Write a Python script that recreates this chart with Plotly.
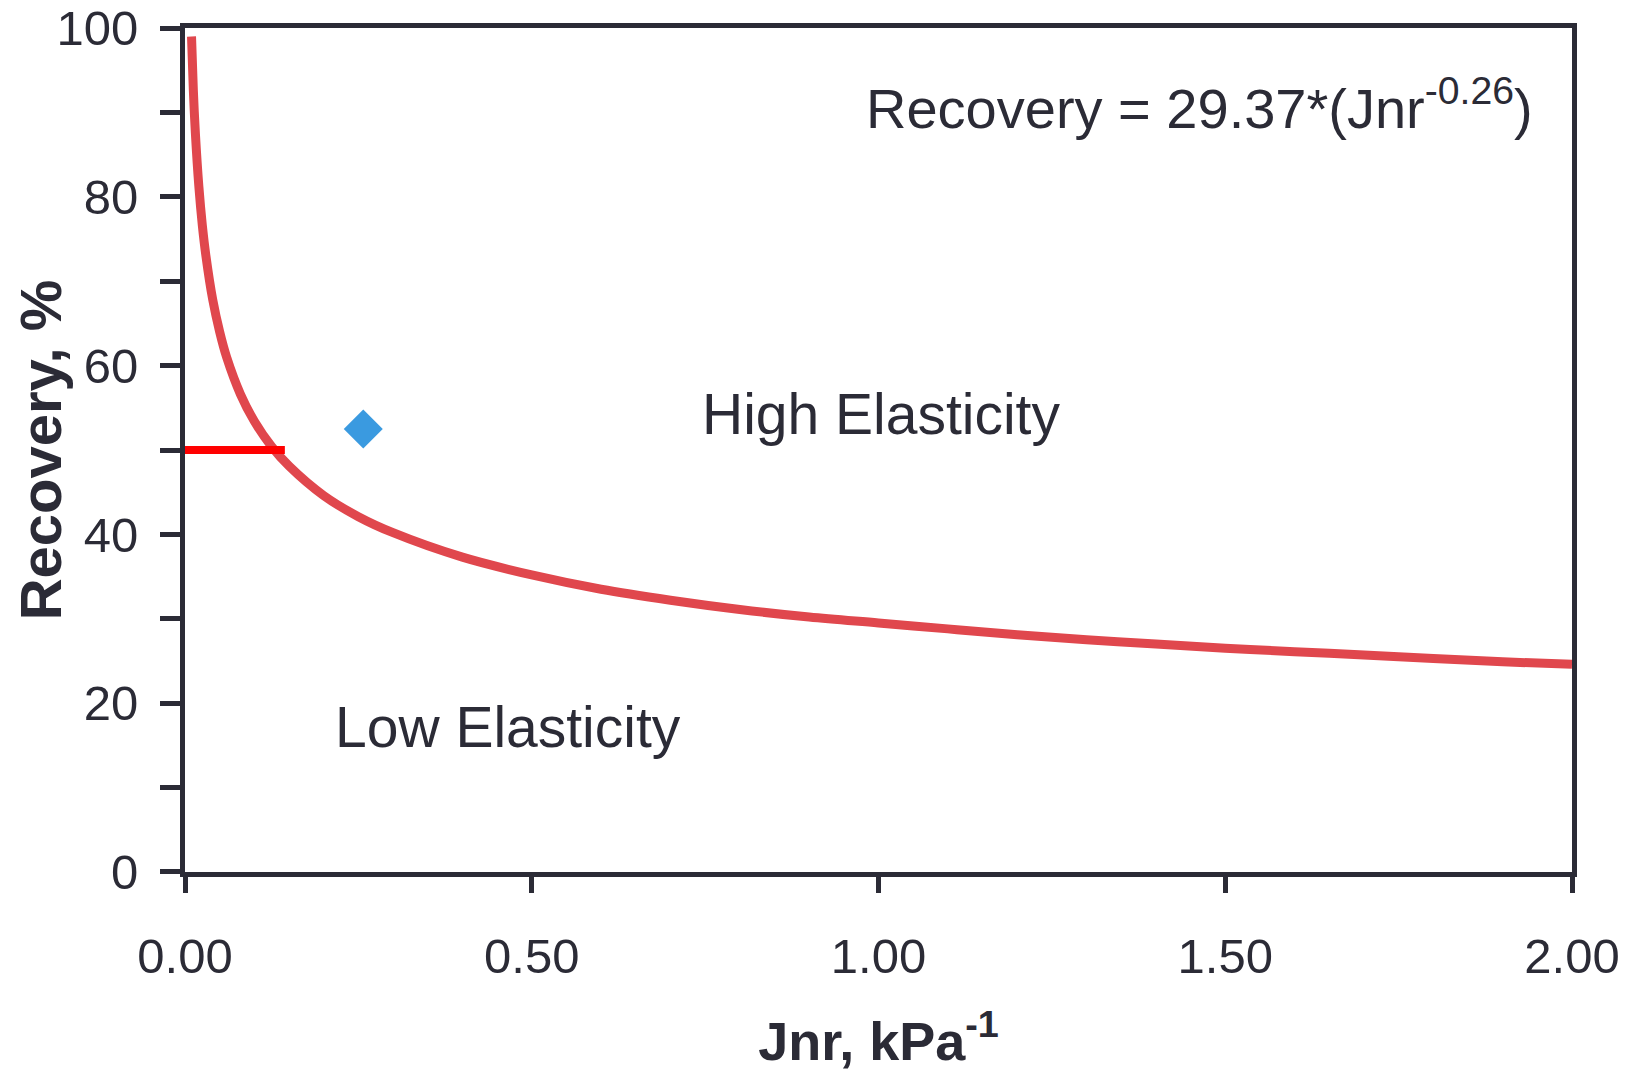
import plotly.graph_objects as go

# Data
jnr = [0.0094, 0.012, 0.015, 0.02, 0.025, 0.03, 0.04, 0.05, 0.06, 0.08, 0.10,
       0.125, 0.15, 0.20, 0.25, 0.30, 0.40, 0.50, 0.60, 0.70, 0.80, 0.90, 1.00,
       1.10, 1.20, 1.30, 1.40, 1.50, 1.60, 1.70, 1.80, 1.90, 2.00]
recovery = [99.0, 92.7, 87.5, 81.2, 76.6, 73.1, 67.8, 64.0, 61.0, 56.6, 53.4,
            50.4, 48.1, 44.6, 42.1, 40.2, 37.3, 35.2, 33.5, 32.2, 31.1, 30.2, 29.5,
            28.8, 28.1, 27.5, 27.0, 26.5, 26.1, 25.7, 25.3, 24.9, 24.6]

limit_x = [0.0, 0.144]
limit_y = [50, 50]

point_x = [0.257]
point_y = [52.5]

y_tick_vals = [0, 20, 40, 60, 80, 100]
y_tick_text = ["0", "20", "40", "60", "80", "100"]
x_tick_vals = [0.0, 0.5, 1.0, 1.5, 2.0]
x_tick_text = ["0.00", "0.50", "1.00", "1.50", "2.00"]

FONT = "Liberation Sans, Arial, sans-serif"
INK = "#2b2b36"

fig = go.Figure()
fig.add_trace(go.Scatter(x=jnr, y=recovery, mode="lines",
                         line=dict(color="#e0474d", width=9, shape="spline"),
                         showlegend=False))
fig.add_trace(go.Scatter(x=limit_x, y=limit_y, mode="lines",
                         line=dict(color="#ff0000", width=8),
                         showlegend=False))
fig.add_trace(go.Scatter(x=point_x, y=point_y, mode="markers",
                         marker=dict(symbol="diamond", size=30, color="#3a9ae0"),
                         showlegend=False))

fig.add_annotation(x=1.947, y=91.0, xanchor="right", yanchor="middle", showarrow=False,
                   text="Recovery = 29.37*(Jnr<sup>-0.26</sup>)",
                   font=dict(family=FONT, size=56, color=INK))
fig.add_annotation(x=0.742, y=54.3, xanchor="left", yanchor="middle", showarrow=False,
                   text="High Elasticity", font=dict(family=FONT, size=57, color=INK))
fig.add_annotation(x=0.214, y=17.2, xanchor="left", yanchor="middle", showarrow=False,
                   text="Low Elasticity", font=dict(family=FONT, size=57, color=INK))

fig.update_layout(
    width=1636, height=1063,
    margin=dict(l=177, r=72, t=20, b=199),
    paper_bgcolor="white", plot_bgcolor="white",
    font=dict(family=FONT, color=INK),
    xaxis=dict(range=[0, 2], tickvals=x_tick_vals, ticktext=x_tick_text,
               automargin=False, ticklabeloverflow="allow",
               showgrid=False, zeroline=False, showline=True, mirror=True,
               linecolor=INK, linewidth=5, ticks="outside", ticklen=16,
               tickwidth=5, tickcolor=INK, ticklabelstandoff=21,
               tickfont=dict(family=FONT, size=49, color=INK),
               title=dict(text="<b>Jnr, kPa<sup>-1</sup></b>", standoff=48,
                          font=dict(family=FONT, size=54, color=INK))),
    yaxis=dict(range=[-0.01, 100.01], tickvals=y_tick_vals, ticktext=y_tick_text,
               automargin=False, ticklabeloverflow="allow",
               showgrid=False, zeroline=False, showline=True, mirror=True,
               linecolor=INK, linewidth=5, ticks="outside", ticklen=20,
               tickwidth=5, tickcolor=INK, ticklabelstandoff=12,
               minor=dict(dtick=10, tick0=0, ticks="outside", ticklen=20,
                          tickwidth=5, tickcolor=INK, showgrid=False),
               tickfont=dict(family=FONT, size=49, color=INK),
               title=dict(text="<b>Recovery, %</b>", standoff=0,
                          font=dict(family=FONT, size=58, color=INK))),
)

fig.write_html("out.html")
